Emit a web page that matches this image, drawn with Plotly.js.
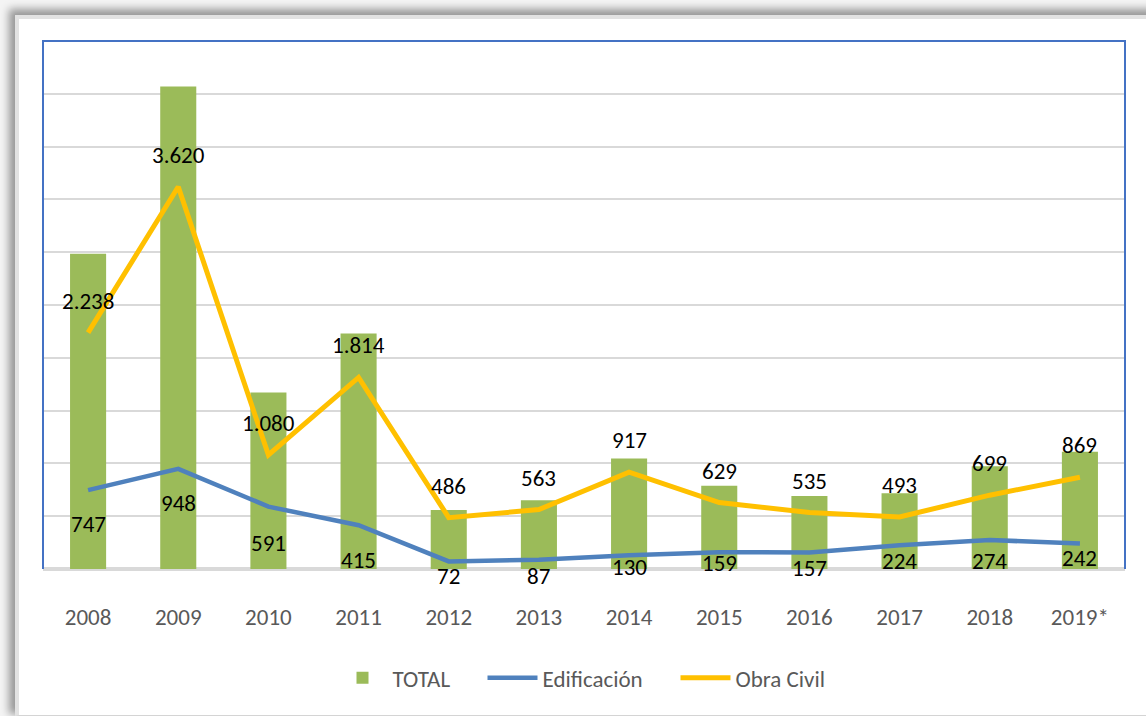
<!DOCTYPE html>
<html>
<head>
<meta charset="utf-8">
<script src="https://cdn.plot.ly/plotly-3.0.1.min.js"></script>
<style>
  html, body { margin: 0; padding: 0; background: #ffffff; }
  #wrap { position: relative; width: 1146px; height: 716px; overflow: hidden; background: #f4f4f4; }
  #card { position: absolute; left: 15px; top: 15px; width: 1200px; height: 696px;
          background: #ffffff; border-left: 4px solid #e2e2e2; border-top: 4px solid #e2e2e2;
          border-bottom: 1px solid #d4d4d4;
          box-shadow: -4px -4px 8px 2px rgba(0,0,0,0.38); }
  #chart { position: absolute; left: 0; top: 0; width: 1146px; height: 716px; }
</style>
</head>
<body>
<div id="wrap">
  <div id="card"></div>
  <div id="chart"></div>
</div>
<script>
// ---- data ----
const years = ["2008","2009","2010","2011","2012","2013","2014","2015","2016","2017","2018","2019*"];
const edificacion = [747, 948, 591, 415, 72, 87, 130, 159, 157, 224, 274, 242];
const obraCivil = [2238, 3620, 1080, 1814, 486, 563, 917, 629, 535, 493, 699, 869];
const total = edificacion.map((v, i) => v + obraCivil[i]);

// label offsets (px, layout only)
const ocLabelShift = 32;
const edLabelShift = [34, 34, 36, 35, 15, 16, 12, 11, 16, 16, 21, 15];

const FONT = "Carlito, Lato, 'Liberation Sans', sans-serif";
const fmt = v => v.toLocaleString('de-DE');

const traces = [
  { type: 'bar', name: 'TOTAL', x: years, y: total, width: 0.4,
    marker: { color: '#9BBB59' }, hoverinfo: 'skip', legendwidth: 85 },
  { type: 'scatter', mode: 'lines', name: 'Edificación', x: years, y: edificacion,
    line: { color: '#4F81BD', width: 4.5 }, hoverinfo: 'skip', legendwidth: 128 },
  { type: 'scatter', mode: 'lines', name: 'Obra Civil', x: years, y: obraCivil,
    line: { color: '#FFC000', width: 5 }, hoverinfo: 'skip', legendwidth: 95 }
];

const annotations = [];
years.forEach((yr, i) => {
  annotations.push({ x: i, y: obraCivil[i], xref: 'x', yref: 'y', text: fmt(obraCivil[i]),
    showarrow: false, yanchor: 'middle', xanchor: 'center', yshift: ocLabelShift,
    font: { family: FONT, size: 23, color: '#000000' } });
  annotations.push({ x: i, y: edificacion[i], xref: 'x', yref: 'y', text: fmt(edificacion[i]),
    showarrow: false, yanchor: 'middle', xanchor: 'center', yshift: -edLabelShift[i],
    font: { family: FONT, size: 23, color: '#000000' } });
});

const layout = {
  width: 1146, height: 716,
  margin: { l: 43, r: 21, t: 41, b: 147 },
  paper_bgcolor: 'rgba(0,0,0,0)',
  plot_bgcolor: 'rgba(0,0,0,0)',
  showlegend: true,
  legend: { orientation: 'h', x: 0.5, xanchor: 'center', y: -0.206, yanchor: 'middle',
    font: { family: FONT, size: 23, color: '#595959' }, traceorder: 'normal',
    bgcolor: 'rgba(0,0,0,0)', itemwidth: 50 },
  xaxis: { type: 'category', range: [-0.5, 11.5], showgrid: false, zeroline: false,
    showline: false, ticks: '', ticklabelstandoff: 32,
    tickfont: { family: FONT, size: 23, color: '#595959' }, fixedrange: true },
  yaxis: { range: [0, 5000], dtick: 500, showticklabels: false, ticks: '',
    showgrid: true, gridcolor: '#D9D9D9', gridwidth: 2,
    zeroline: true, zerolinecolor: '#D9D9D9', zerolinewidth: 4, fixedrange: true },
  shapes: [
    { type: 'path', xref: 'paper', yref: 'paper', path: 'M 0 0 L 0 1 L 1 1 L 1 0',
      line: { color: '#4472C4', width: 2 }, layer: 'above' }
  ],
  annotations: annotations,
  bargap: 0.6,
  barmode: 'overlay'
};

Plotly.newPlot('chart', traces, layout, { displayModeBar: false, staticPlot: true });
</script>
</body>
</html>
